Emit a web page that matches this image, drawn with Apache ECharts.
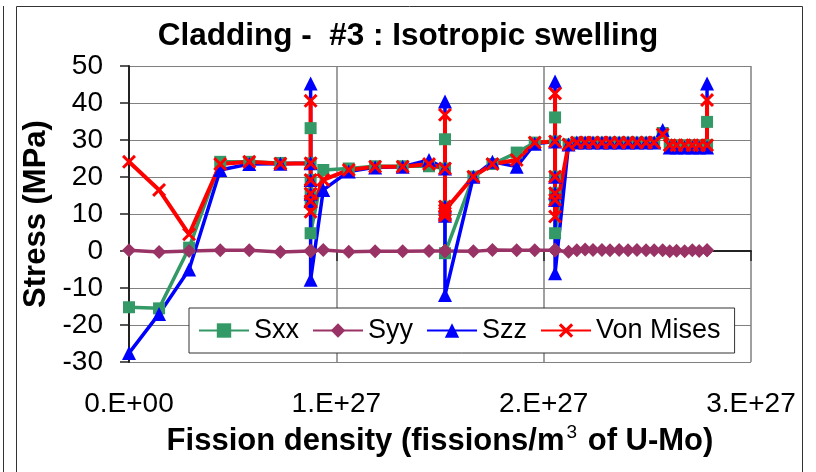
<!DOCTYPE html>
<html>
<head>
<meta charset="utf-8">
<script src="https://cdn.jsdelivr.net/npm/echarts@6/dist/echarts.min.js"></script>
<style>
  html, body { margin: 0; padding: 0; background: #fff; }
  #chart { width: 816px; height: 472px; }
</style>
</head>
<body>
<div id="chart"></div>
<script>
var E27 = 1e27;
var FONT = "'Liberation Sans', Arial, sans-serif";

// fission density, in units of 1e27 fissions/m3 (repeated x = several steps at the same density)
var fission = [0, 0.145, 0.29, 0.44, 0.58, 0.73,
  0.876, 0.876, 0.876, 0.876, 0.876, 0.876,
  0.937, 1.06, 1.187, 1.32, 1.447,
  1.524, 1.524, 1.524, 1.524, 1.524, 1.524,
  1.661, 1.753, 1.87, 1.957,
  2.055, 2.055, 2.055, 2.055, 2.055, 2.055,
  2.12, 2.16, 2.2, 2.238, 2.281, 2.32, 2.364, 2.407, 2.45, 2.494, 2.533,
  2.574,
  2.608, 2.641, 2.68, 2.717, 2.75,
  2.788, 2.788];

// stresses (MPa)
var sxx = [-15.2, -15.5, 0.9, 24.1, 24.1, 23.8,
  23.7, 33.2, 19.2, 15.5, 13.5, 4.8,
  21.9, 22.3, 22.9, 22.9, 22.9,
  22.3, 30.2, 12.0, 10.2, 9.5, -0.6,
  20.1, 23.5, 26.6, 29.3,
  29.6, 36.1, 20.1, 15.6, 13.8, 4.8,
  28.8, 29.3, 29.3, 29.3, 29.3, 29.3, 29.3, 29.3, 29.3, 29.3, 29.3,
  31.9,
  28.6, 28.6, 28.6, 28.6, 28.6,
  28.6, 34.9];

var syy = [0.2, -0.3, 0, 0.2, 0.2, -0.3,
  0, 0, 0, 0, 0, 0,
  0.3, -0.2, -0.1, -0.1, 0,
  0, 0, 0, 0, 0, 0,
  -0.1, 0.3, 0.2, 0.2,
  0.2, 0.2, 0.2, 0.2, 0.2, 0.2,
  -0.2, 0.2, 0.4, 0.3, 0.3, 0.2, 0.3, 0.2, 0.3, 0.2, 0.2,
  0.2,
  -0.1, 0.1, -0.1, 0.2, 0,
  0.2, 0.2];

var szz = [-27.6, -17.0, -5.0, 21.9, 23.5, 23.6,
  23.7, 45.3, 19.2, 15.5, 13.5, -7.8,
  16.5, 21.5, 22.6, 22.8, 24.6,
  22.3, 40.4, 12.0, 10.2, 9.5, -11.9,
  20.1, 24.1, 22.8, 29.0,
  29.6, 45.8, 20.1, 15.6, 13.8, -6.0,
  28.8, 29.3, 29.3, 29.3, 29.3, 29.3, 29.3, 29.3, 29.3, 29.3, 29.3,
  32.7,
  28.0, 28.0, 28.0, 28.0, 28.0,
  28.0, 45.3];

var vonMises = [24.1, 16.5, 4.5, 23.5, 24.1, 23.6,
  23.7, 40.6, 19.2, 15.5, 13.5, 10.6,
  19.2, 21.9, 22.8, 22.8, 23.5,
  22.3, 36.8, 12.0, 10.2, 9.5, 11.0,
  20.1, 23.5, 24.6, 29.3,
  29.6, 42.6, 20.1, 15.6, 13.8, 9.3,
  28.8, 29.3, 29.3, 29.3, 29.3, 29.3, 29.3, 29.3, 29.3, 29.3, 29.3,
  31.5,
  28.6, 28.6, 28.6, 28.6, 28.6,
  28.6, 40.8];

var xTicks = ['0.E+00', '1.E+27', '2.E+27', '3.E+27'];

var crossPath = 'path://M0,1.5 L1.5,0 L5,3.5 L8.5,0 L10,1.5 L6.5,5 L10,8.5 L8.5,10 L5,6.5 L1.5,10 L0,8.5 L3.5,5 Z';

function pairs(ys) {
  return fission.map(function (x, i) { return [x * E27, ys[i]]; });
}

function mkSeries(name, ys, color, symbol, size, width) {
  return {
    name: name,
    type: 'line',
    data: pairs(ys),
    symbol: symbol,
    symbolSize: size,
    showAllSymbol: true,
    lineStyle: { color: color, width: width },
    itemStyle: { color: color, borderWidth: 0 }
  };
}

var chart = echarts.init(document.getElementById('chart'));
chart.setOption({
  animation: false,
  textStyle: { fontFamily: FONT },
  title: {
    text: 'Cladding -  #3 : Isotropic swelling',
    left: 'center',
    top: 15,
    textStyle: { fontSize: 31.5, fontWeight: 'bold', color: '#000', fontFamily: FONT }
  },
  grid: { left: 129, right: 65, top: 66, bottom: 110 },
  legend: {
    left: 189,
    top: 308,
    padding: [9, 14, 9, 9],
    itemWidth: 50,
    itemHeight: 18,
    itemGap: 13,
    backgroundColor: '#fff',
    borderColor: '#333',
    borderWidth: 1,
    borderRadius: 0,
    textStyle: { fontSize: 27, color: '#000', fontFamily: FONT },
    data: ['Sxx', 'Syy', 'Szz', 'Von Mises']
  },
  xAxis: {
    type: 'value',
    min: 0,
    max: 3 * E27,
    interval: E27,
    name: '{a|Fission density (fissions/m}{s|3}{a| of U-Mo)}',
    nameLocation: 'middle',
    nameGap: 61,
    nameTextStyle: {
      rich: {
        a: { fontSize: 31, fontWeight: 'bold', color: '#000', fontFamily: FONT },
        s: { fontSize: 19, color: '#000', fontFamily: FONT, padding: [0, 2, 18, 2] }
      }
    },
    axisLine: { lineStyle: { color: '#222', width: 2 } },
    axisTick: { show: true, length: 10, lineStyle: { color: '#222', width: 1.5 } },
    axisLabel: {
      margin: 28,
      fontSize: 28,
      color: '#000',
      fontFamily: FONT,
      formatter: function (v) { return xTicks[Math.round(v / E27)]; }
    },
    splitLine: { show: true, lineStyle: { color: '#808080', width: 1.5 } }
  },
  yAxis: {
    type: 'value',
    min: -30,
    max: 50,
    interval: 10,
    name: 'Stress (MPa)',
    nameLocation: 'middle',
    nameGap: 67,
    nameTextStyle: { fontSize: 31, fontWeight: 'bold', color: '#000', fontFamily: FONT },
    axisLine: { show: true, lineStyle: { color: '#222', width: 2 } },
    axisTick: { show: true, length: 9, lineStyle: { color: '#222', width: 1.5 } },
    axisLabel: { margin: 26, fontSize: 28, color: '#000', fontFamily: FONT },
    splitLine: { show: true, lineStyle: { color: '#808080', width: 1 } }
  },
  graphic: [
    { type: 'line', shape: { x1: 3.5, y1: 6, x2: 3.5, y2: 472 }, style: { stroke: '#333', lineWidth: 1 } },
    { type: 'polyline', shape: { points: [[16.5, 472], [16.5, 6.5], [802.5, 6.5], [802.5, 472]] },
      style: { stroke: '#333', fill: null, lineWidth: 1 } }
  ],
  series: [
    mkSeries('Sxx', sxx, '#339966', 'rect', 12, 3.5),
    mkSeries('Syy', syy, '#993366', 'diamond', [14, 14], 3.5),
    mkSeries('Szz', szz, '#0000ff', 'triangle', 14, 3.5),
    mkSeries('Von Mises', vonMises, '#ff0000', crossPath, 14, 4)
  ]
});
</script>
</body>
</html>
